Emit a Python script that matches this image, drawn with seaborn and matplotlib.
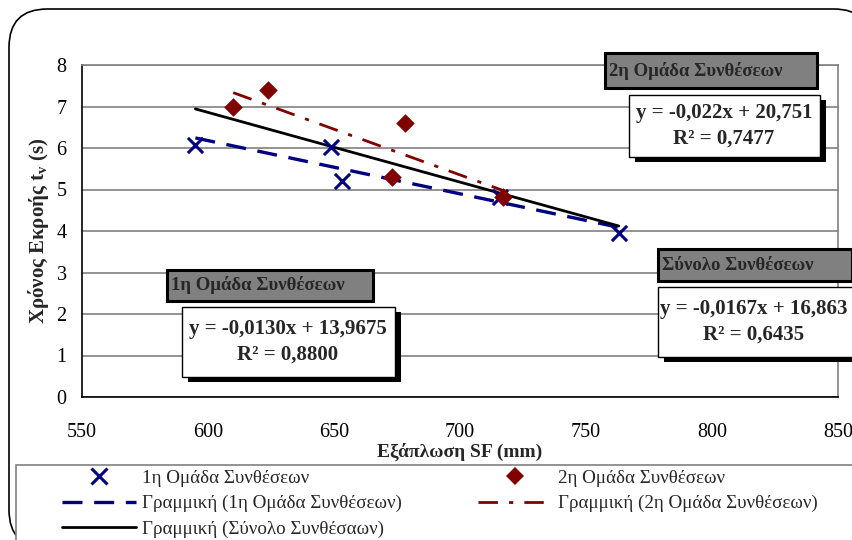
import matplotlib
matplotlib.use("Agg")
import matplotlib.pyplot as plt
import seaborn as sns
import numpy as np
import pandas as pd
from matplotlib.patches import Rectangle, FancyBboxPatch
from matplotlib.lines import Line2D

# ---- data ----
x_group1 = [595, 649, 653, 716, 763]
y_group1 = [6.08, 6.02, 5.20, 4.83, 3.94]
x_group2 = [610, 624, 673, 678, 717]
y_group2 = [7.00, 7.40, 5.29, 6.60, 4.83]

series_names = ["1η Ομάδα Συνθέσεων", "2η Ομάδα Συνθέσεων"]
trend_names = ["Γραμμική (1η Ομάδα Συνθέσεων)", "Γραμμική (2η Ομάδα Συνθέσεων)",
               "Γραμμική (Σύνολο Συνθέσαων)"]
box_titles = ["1η Ομάδα Συνθέσεων", "2η Ομάδα Συνθέσεων", "Σύνολο Συνθέσεων"]
equations = ["y = -0,0130x + 13,9675\nR² = 0,8800",
             "y = -0,022x + 20,751\nR² = 0,7477",
             "y = -0,0167x + 16,863\nR² = 0,6435"]
x_ticks = [550, 600, 650, 700, 750, 800, 850]
y_ticks = [0, 1, 2, 3, 4, 5, 6, 7, 8]
x_label = "Εξάπλωση SF (mm)"
y_label = "Χρόνος Εκροής t$_\\mathregular{v}$ (s)"

# ---- style ----
sns.set_theme(style="white")
plt.rcParams["font.family"] = ["Liberation Serif", "DejaVu Serif"]
plt.rcParams["mathtext.default"] = "regular"

W, H = 852, 540
fig = plt.figure(figsize=(W / 100, H / 100), dpi=100)

def fx(px):
    return px / W

def fy(py):
    return 1 - py / H

# outer rounded frame
outer = FancyBboxPatch((fx(9), fy(548)), fx(852 + 20 - 9), (548 - 9) / H,
                       boxstyle="round,pad=0,rounding_size=0.045",
                       transform=fig.transFigure, fc="white", ec="black", lw=1.2,
                       mutation_aspect=W / H, zorder=0)
fig.add_artist(outer)

ax = fig.add_axes([fx(82), fy(397), fx(838 - 82), (397 - 65) / H])
ax.set_facecolor("none")

blue = "#000080"
red = "#800000"

df1 = pd.DataFrame({"x": x_group1, "y": y_group1})
df2 = pd.DataFrame({"x": x_group2, "y": y_group2})
dfall = pd.concat([df1, df2], ignore_index=True)

# trend lines
sns.regplot(data=df1, x="x", y="y", ax=ax, scatter=False, ci=None,
            line_kws=dict(color=blue, lw=2.4, dashes=(6, 3.5), zorder=3))
sns.regplot(data=df2, x="x", y="y", ax=ax, scatter=False, ci=None,
            line_kws=dict(color=red, lw=2.0, dashes=(7, 4, 1.5, 4), zorder=3))
sns.regplot(data=dfall, x="x", y="y", ax=ax, scatter=False, ci=None,
            line_kws=dict(color="black", lw=2.0, zorder=3))

# points
sns.scatterplot(data=df1, x="x", y="y", ax=ax, marker="x", color=blue,
                s=120, linewidth=2.2, zorder=4)
sns.scatterplot(data=df2, x="x", y="y", ax=ax, marker="D", color=red,
                s=90, linewidth=0, zorder=5)

ax.set_xlim(550, 850)
ax.set_ylim(0, 8)
ax.set_xticks(x_ticks)
ax.set_yticks(y_ticks)
ax.set_xticklabels([str(v) for v in x_ticks])
ax.set_yticklabels([str(v) for v in y_ticks])
ax.yaxis.grid(True, color="#808080", lw=1.2)
ax.xaxis.grid(False)
ax.set_axisbelow(True)
for s in ["top", "right"]:
    ax.spines[s].set_color("#808080")
    ax.spines[s].set_linewidth(1.2)
for s in ["left", "bottom"]:
    ax.spines[s].set_color("black")
    ax.spines[s].set_linewidth(1.2)
ax.tick_params(axis="both", direction="out", length=7, width=1.2, color="black",
               labelsize=14.5, labelcolor="black", pad=4)
ax.tick_params(axis="x", pad=12)
ax.set_xlabel(x_label, fontsize=14, fontweight="bold", labelpad=0)
ax.set_ylabel(y_label, fontsize=15, fontweight="bold", labelpad=4)

# annotation boxes (pixel geometry)
title_boxes = [(167, 270, 373, 301), (605, 53, 817, 88), (658, 249, 852, 281)]
eq_boxes = [(182, 307, 395, 377), (629, 95, 820, 157), (658, 287, 862, 357)]
eq_centers = [288, 724, 754]

for (x0, y0, x1, y1), t in zip(title_boxes, box_titles):
    fig.add_artist(Rectangle((fx(x0), fy(y1)), fx(x1 - x0), (y1 - y0) / H,
                             transform=fig.transFigure, fc="#808080", ec="black",
                             lw=2.2, zorder=10))
    fig.text(fx(x0 + 4), fy((y0 + y1) / 2), t, fontsize=13.5, fontweight="bold",
             ha="left", va="center", zorder=11)

for (x0, y0, x1, y1), t, cx in zip(eq_boxes, equations, eq_centers):
    fig.add_artist(Rectangle((fx(x0 + 6), fy(y1 + 5)), fx(x1 - x0), (y1 - y0) / H,
                             transform=fig.transFigure, fc="black", ec="black",
                             lw=0, zorder=10))
    fig.add_artist(Rectangle((fx(x0), fy(y1)), fx(x1 - x0), (y1 - y0) / H,
                             transform=fig.transFigure, fc="white", ec="black",
                             lw=1.0, zorder=11))
    fig.text(fx(cx), fy((y0 + y1) / 2), t, fontsize=15, fontweight="bold",
             ha="center", va="center", linespacing=1.35, zorder=12)

# legend frame
fig.add_artist(Rectangle((fx(16), fy(560)), fx(860 - 16), (560 - 465) / H,
                         transform=fig.transFigure, fc="white", ec="#808080",
                         lw=1.2, zorder=1))
handles = [
    Line2D([], [], ls="none", marker="x", color=blue, ms=11, mew=2.2),
    Line2D([], [], color=blue, lw=2.4, dashes=(6, 3.5)),
    Line2D([], [], color="black", lw=2.0),
    Line2D([], [], ls="none", marker="D", color=red, ms=9, mew=0),
    Line2D([], [], color=red, lw=2.0, dashes=(7, 4, 1.5, 4)),
]
labels = [series_names[0], trend_names[0], trend_names[2], series_names[1], trend_names[1]]
leg = fig.legend(handles, labels, ncol=2, loc="upper left",
                 bbox_to_anchor=(fx(58), fy(466)), frameon=False, fontsize=13.7,
                 handlelength=3.9, handletextpad=0.3, columnspacing=4.0,
                 labelspacing=0.42, borderaxespad=0, borderpad=0.2)

fig.savefig("out.png", dpi=100)
